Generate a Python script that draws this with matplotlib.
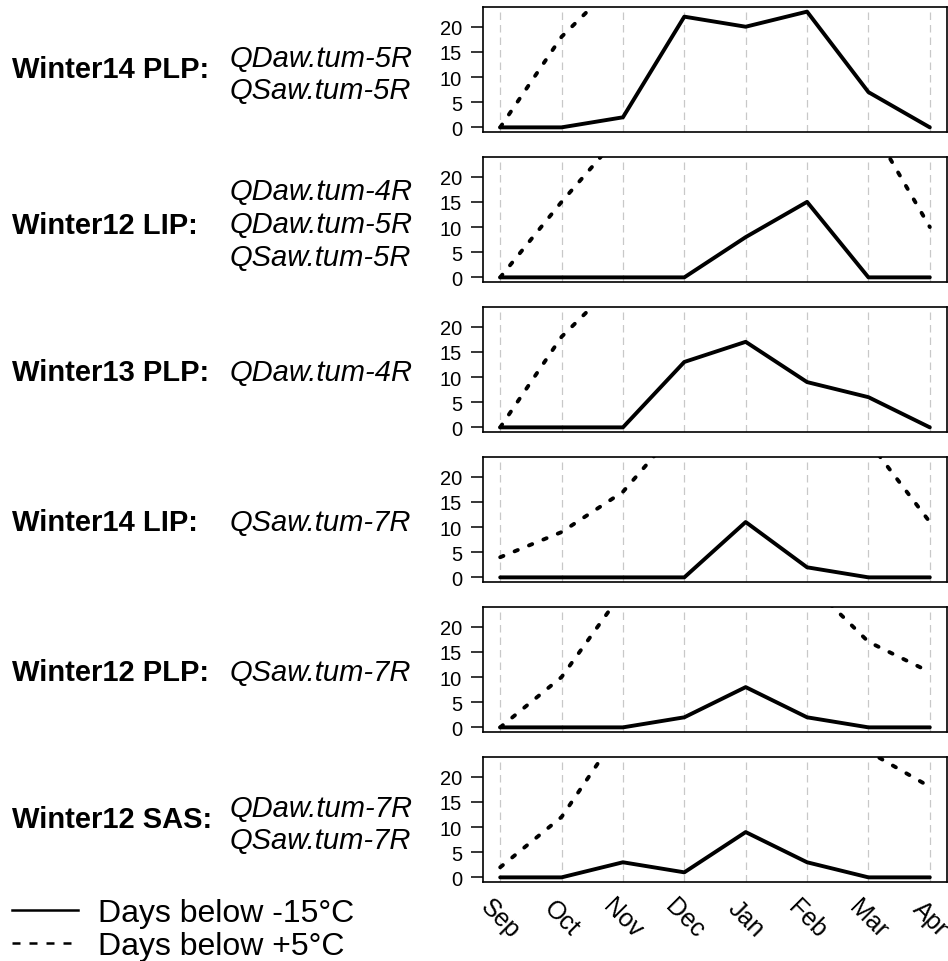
import matplotlib
matplotlib.use('Agg')
import matplotlib.pyplot as plt
from matplotlib.lines import Line2D

plt.rcParams['font.family'] = ['Liberation Sans', 'DejaVu Sans']

# ---------------- data ----------------
months = ['Sep', 'Oct', 'Nov', 'Dec', 'Jan', 'Feb', 'Mar', 'Apr']
panel_titles = ['Winter14 PLP:', 'Winter12 LIP:', 'Winter13 PLP:',
                'Winter14 LIP:', 'Winter12 PLP:', 'Winter12 SAS:']
panel_qtl = [['QDaw.tum-5R', 'QSaw.tum-5R'],
             ['QDaw.tum-4R', 'QDaw.tum-5R', 'QSaw.tum-5R'],
             ['QDaw.tum-4R'],
             ['QSaw.tum-7R'],
             ['QSaw.tum-7R'],
             ['QDaw.tum-7R', 'QSaw.tum-7R']]
days_below_m15 = [[0, 0, 2, 22, 20, 23, 7, 0],
                  [0, 0, 0, 0, 8, 15, 0, 0],
                  [0, 0, 0, 13, 17, 9, 6, 0],
                  [0, 0, 0, 0, 11, 2, 0, 0],
                  [0, 0, 0, 2, 8, 2, 0, 0],
                  [0, 0, 3, 1, 9, 3, 0, 0]]
days_below_p5 = [[0, 18, 30, 31, 31, 28, 31, 28],
                 [0, 15, 29, 31, 31, 29, 31, 10],
                 [0, 18, 30, 31, 31, 28, 31, 28],
                 [4, 9, 17, 31, 31, 28, 27, 11],
                 [0, 10, 27, 31, 31, 29, 17, 11],
                 [2, 12, 30, 31, 31, 29, 25, 18]]
y_ticks = [0, 5, 10, 15, 20]
legend_labels = ['Days below -15°C', 'Days below +5°C']

# ---------------- layout ----------------
W, H = 948, 962
fig = plt.figure(figsize=(W / 100, H / 100), dpi=100)

def fy(px):
    return 1 - px / H

def fx(px):
    return px / W

x = list(range(1, len(months) + 1))
title_size = 21
qtl_size = 21
em_px = title_size * 100 / 72
cap_off = 0.36 * em_px

# text vertical offsets (px) relative to panel centre
title_off = {1: 0, 2: -3, 3: 3}
line_gap = 33
line_base = 2

for i in range(6):
    top = 8 + 150 * i
    bot = 133 + 150 * i
    ax = fig.add_axes([fx(483), fy(bot), fx(464), 125 / H])
    ax.plot(x, days_below_m15[i], color='black', lw=2.8,
            solid_capstyle='round', solid_joinstyle='round', zorder=3)
    ax.plot(x, days_below_p5[i], color='black', lw=2.8,
            linestyle=(0, (0.9, 3.1)), dash_capstyle='round', zorder=3)
    ax.set_xlim(0.72, 8.28)
    ax.set_ylim(-0.92, 23.92)
    ax.set_yticks(y_ticks)
    ax.set_xticks(x)
    ax.grid(axis='x', color='#c8c8c8', lw=0.9, linestyle=(0, (6, 4)), zorder=0)
    ax.tick_params(axis='y', length=8.5, width=1.1, pad=6.5, labelsize=14.5)
    ax.tick_params(axis='x', length=0, pad=26)
    for s in ax.spines.values():
        s.set_linewidth(1.2)
    if i == 5:
        ax.set_xticklabels(months, rotation=-45, ha='center', va='center',
                           rotation_mode='anchor', fontsize=18)
    else:
        ax.set_xticklabels([])

    centre = (top + bot) / 2
    n = len(panel_qtl[i])
    fig.text(fx(12), fy(centre + title_off[n] + cap_off), panel_titles[i],
             fontsize=title_size, fontweight='bold', ha='left', va='baseline')
    for k, q in enumerate(panel_qtl[i]):
        yc = centre + line_base + (k - (n - 1) / 2) * line_gap
        if n == 1:
            yc = centre
        fig.text(fx(230), fy(yc + cap_off), q, fontsize=qtl_size,
                 fontstyle='italic', ha='left', va='baseline')

# legend
leg_size = 23
leg_cap = 0.36 * leg_size * 100 / 72
leg_y = [911, 944]
styles = ['-', (0, (3.2, 3.6))]
for lab, yy, st in zip(legend_labels, leg_y, styles):
    fig.add_artist(Line2D([fx(12), fx(78)], [fy(yy), fy(yy)], color='black',
                          lw=1.8, linestyle=st, transform=fig.transFigure))
    fig.text(fx(98), fy(yy + leg_cap), lab, fontsize=leg_size,
             ha='left', va='baseline')

fig.savefig('out.png', dpi=100)
